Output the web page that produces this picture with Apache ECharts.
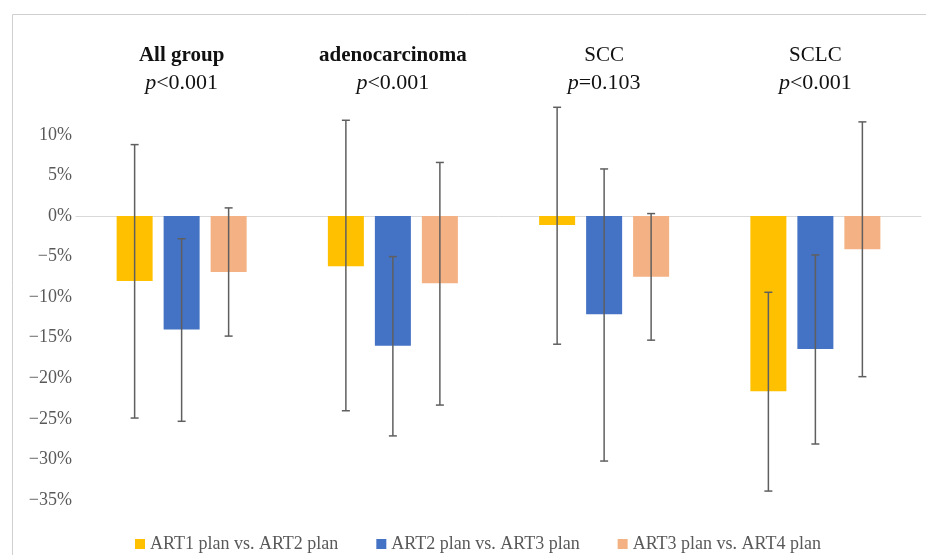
<!DOCTYPE html>
<html>
<head>
<meta charset="utf-8">
<script src="https://cdn.jsdelivr.net/npm/echarts@6/dist/echarts.min.js"></script>
<style>
  html, body { margin: 0; padding: 0; background: #fff; }
  #main { width: 926px; height: 555px; }
</style>
</head>
<body>
<div id="main"></div>
<script>
var groups = ['All group', 'adenocarcinoma', 'SCC', 'SCLC'];
var pValues = ['<0.001', '<0.001', '=0.103', '<0.001'];
var groupBold = [true, true, false, false];
var seriesNames = ['ART1 plan vs. ART2 plan', 'ART2 plan vs. ART3 plan', 'ART3 plan vs. ART4 plan'];

// mean change (%), one array per comparison
var art12 = [-8.0, -6.2, -1.1, -21.6];
var art23 = [-14.0, -16.0, -12.1, -16.4];
var art34 = [-6.9, -8.3, -7.5, -4.1];

// error bar ends (%)
var art12Low = [-24.9, -24.0, -15.8, -33.9];
var art12High = [8.8, 11.8, 13.4, -9.4];
var art23Low = [-25.3, -27.1, -30.2, -28.1];
var art23High = [-2.8, -5.0, 5.8, -4.8];
var art34Low = [-14.8, -23.3, -15.3, -19.8];
var art34High = [1.0, 6.6, 0.3, 11.6];

var colors = ['#FFC000', '#4472C4', '#F4B183'];
var serif = '"Liberation Serif", "DejaVu Serif", serif';
var barW = 36, gapW = 11;

function errorSeries(idx, low, high) {
  return {
    type: 'custom',
    name: seriesNames[idx] + ' error',
    z: 10,
    silent: true,
    clip: false,
    data: groups.map(function (g, i) { return [i, low[i], high[i]]; }),
    renderItem: function (params, api) {
      var lo = api.coord([api.value(0), api.value(1)]);
      var hi = api.coord([api.value(0), api.value(2)]);
      var x = lo[0] + (idx - 1) * (barW + gapW);
      var cap = 4;
      var style = { stroke: '#5f5f5f', lineWidth: 1.5 };
      return {
        type: 'group',
        children: [
          { type: 'line', shape: { x1: x, y1: lo[1], x2: x, y2: hi[1] }, style: style },
          { type: 'line', shape: { x1: x - cap, y1: lo[1], x2: x + cap, y2: lo[1] }, style: style },
          { type: 'line', shape: { x1: x - cap, y1: hi[1], x2: x + cap, y2: hi[1] }, style: style }
        ]
      };
    }
  };
}

function fmtPct(v) {
  if (v > 10) return '';
  return (v < 0 ? '\u2212' + Math.abs(v) : v) + '%';
}

var option = {
  animation: false,
  backgroundColor: '#fff',
  graphic: [{
    type: 'rect',
    shape: { x: 12.5, y: 14.5, width: 1000, height: 700 },
    style: { fill: 'none', stroke: '#d0d0d0', lineWidth: 1 },
    silent: true
  }],
  legend: {
    data: seriesNames,
    left: 130,
    top: 530,
    icon: 'rect',
    itemWidth: 10,
    itemHeight: 10,
    itemGap: 38,
    textStyle: { fontFamily: serif, fontSize: 18, color: '#595959' }
  },
  grid: { left: 76, right: 5, top: 94.3, bottom: 55 },
  xAxis: [{
    type: 'category',
    data: groups,
    axisLine: { onZero: true, lineStyle: { color: '#d9d9d9', width: 1 } },
    axisTick: { show: false },
    axisLabel: { show: false }
  }, {
    type: 'category',
    data: groups,
    position: 'top',
    offset: -3,
    axisLine: { show: false },
    axisTick: { show: false },
    axisLabel: {
      margin: 0,
      interval: 0,
      formatter: function (v, i) {
        var name = groupBold[i] ? '{b|' + v + '}' : '{n|' + v + '}';
        return name + '\n{i|p}{m|' + pValues[i] + '}';
      },
      rich: {
        b: { fontFamily: serif, fontSize: 21, fontWeight: 'bold', color: '#111', lineHeight: 28 },
        n: { fontFamily: serif, fontSize: 21, color: '#111', lineHeight: 28 },
        i: { fontFamily: serif, fontSize: 22, fontStyle: 'italic', color: '#111', lineHeight: 28 },
        m: { fontFamily: serif, fontSize: 22, color: '#111', lineHeight: 28 }
      }
    }
  }],
  yAxis: {
    type: 'value',
    min: -35,
    max: 15,
    interval: 5,
    axisLine: { show: false },
    axisTick: { show: false },
    splitLine: { show: false },
    axisLabel: {
      formatter: fmtPct,
      fontFamily: serif,
      fontSize: 18,
      color: '#595959',
      margin: 4
    }
  },
  series: [
    { name: seriesNames[0], type: 'bar', data: art12, barWidth: barW, barGap: (gapW / barW * 100) + '%', itemStyle: { color: colors[0] } },
    { name: seriesNames[1], type: 'bar', data: art23, barWidth: barW, itemStyle: { color: colors[1] } },
    { name: seriesNames[2], type: 'bar', data: art34, barWidth: barW, itemStyle: { color: colors[2] } },
    errorSeries(0, art12Low, art12High),
    errorSeries(1, art23Low, art23High),
    errorSeries(2, art34Low, art34High)
  ]
};

echarts.init(document.getElementById('main')).setOption(option);
</script>
</body>
</html>
